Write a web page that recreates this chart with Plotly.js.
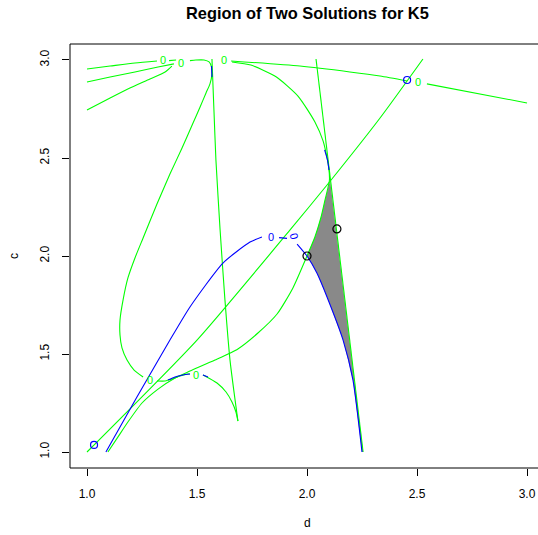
<!DOCTYPE html>
<html>
<head>
<meta charset="utf-8">
<script src="https://cdn.plot.ly/plotly-3.0.1.min.js"></script>
<style>html,body{margin:0;padding:0;background:#fff;overflow:hidden}#chart{width:538px;height:535px}</style>
</head>
<body>
<div id="chart"></div>
<script>
// ---- data (d, c) ----
const xTicks = [1.0, 1.5, 2.0, 2.5, 3.0];
const yTicks = [1.0, 1.5, 2.0, 2.5, 3.0];

// green contours (level 0)
const diagD = [1.000, 1.500, 1.923, 2.104, 2.332, 2.527];
const diagC = [1.000, 1.571, 2.133, 2.380, 2.704, 3.005];

const vert2D = [2.041, 2.255];
const vert2C = [3.005, 1.000];

const vert1D = [1.568, 1.577, 1.586, 1.605, 1.627, 1.650, 1.686];
const vert1C = [3.005, 2.745, 2.490, 2.133, 1.776, 1.469, 1.158];

const sCurveD = [1.095, 1.141, 1.186, 1.250, 1.323, 1.400, 1.468, 1.582, 1.686, 1.777, 1.864, 1.936, 2.000, 2.036, 2.064, 2.082, 2.095, 2.102, 2.100, 2.093, 2.073, 2.036, 1.959, 1.861, 1.745, 1.659];
const sCurveC = [1.000, 1.077, 1.153, 1.250, 1.321, 1.378, 1.413, 1.469, 1.526, 1.607, 1.704, 1.837, 2.000, 2.097, 2.199, 2.286, 2.347, 2.388, 2.439, 2.490, 2.587, 2.684, 2.816, 2.913, 2.974, 2.990];

const loopD = [1.468, 1.495, 1.532, 1.555, 1.566, 1.568, 1.559, 1.541, 1.514, 1.482, 1.432, 1.377, 1.318, 1.255, 1.218, 1.186, 1.164, 1.150, 1.150, 1.159, 1.182, 1.214, 1.255];
const loopC = [2.997, 3.000, 3.000, 2.990, 2.964, 2.929, 2.878, 2.832, 2.760, 2.679, 2.551, 2.418, 2.265, 2.092, 1.990, 1.888, 1.776, 1.673, 1.597, 1.531, 1.469, 1.418, 1.383];

const humpAD = [1.318, 1.355, 1.386, 1.423, 1.459, 1.468];
const humpAC = [1.362, 1.362, 1.372, 1.388, 1.398, 1.398];
const humpBD = [1.527, 1.536, 1.591, 1.632, 1.659, 1.677, 1.686];
const humpBC = [1.393, 1.388, 1.352, 1.306, 1.255, 1.204, 1.158];

const topAD = [1.000, 1.105, 1.218, 1.318];
const topAC = [2.954, 2.969, 2.985, 2.995];
const topA2D = [1.373, 1.405];
const topA2C = [2.997, 3.000];
const topBD = [1.000, 1.105, 1.218, 1.323, 1.395];
const topBC = [2.888, 2.913, 2.939, 2.964, 2.980];
const topCD = [1.000, 1.105, 1.195, 1.286, 1.355, 1.386];
const topCC = [2.745, 2.806, 2.857, 2.903, 2.939, 2.969];
const topRD = [1.655, 1.968, 2.195, 2.332, 2.455];
const topRC = [2.995, 2.969, 2.939, 2.918, 2.893];
const topR2D = [2.545, 3.000];
const topR2C = [2.878, 2.781];

// blue contours (level 0)
const blueAD = [1.086, 1.227, 1.377, 1.468, 1.618, 1.741, 1.795];
const blueAC = [1.000, 1.281, 1.571, 1.740, 1.964, 2.071, 2.097];
const blueDashD = [1.873, 1.909];
const blueDashC = [2.094, 2.090];
const blueBD = [1.955, 2.000, 2.045, 2.091, 2.164, 2.209, 2.250];
const blueBC = [2.061, 2.000, 1.913, 1.791, 1.571, 1.367, 1.000];
const blueTopD = [1.566, 1.568];
const blueTopC = [2.969, 2.913];
const blueQD = [2.080, 2.093, 2.100];
const blueQC = [2.541, 2.490, 2.439];
const blueHump1D = [1.368, 1.400, 1.436, 1.468];
const blueHump1C = [1.367, 1.383, 1.393, 1.398];
const blueHump2D = [1.527, 1.550];
const blueHump2C = [1.393, 1.383];

// shaded region (two solutions)
const regionD = [2.105, 2.255, 2.250, 2.209, 2.164, 2.091, 2.045, 2.000, 2.036, 2.064, 2.082, 2.095, 2.105];
const regionC = [2.388, 1.000, 1.000, 1.367, 1.571, 1.791, 1.913, 2.000, 2.097, 2.199, 2.286, 2.347, 2.388];

// points
const blackPtD = [2.000, 2.136];
const blackPtC = [2.000, 2.138];
const bluePtD = [1.032, 2.455];
const bluePtC = [1.036, 2.898];

// contour labels
const greenLabD = [1.345, 1.427, 1.623, 2.505, 1.286, 1.497];
const greenLabC = [3.000, 2.985, 3.000, 2.888, 1.367, 1.395];
const blueLabD = [1.836];
const blueLabC = [2.097];
const blueLabRotD = [1.941];
const blueLabRotC = [2.102];

const GREEN = '#00FF00', BLUE = '#0000FF';

function line(x, y, color, smooth) {
  return {x: x, y: y, type: 'scatter', mode: 'lines', hoverinfo: 'skip', showlegend: false,
    line: {color: color, width: 1.1, shape: smooth ? 'spline' : 'linear', smoothing: 0.6}};
}

const traces = [
  {x: regionD, y: regionC, type: 'scatter', mode: 'lines', fill: 'toself', fillcolor: '#898989',
   line: {width: 0, color: '#898989'}, hoverinfo: 'skip', showlegend: false},
  line(diagD, diagC, GREEN, true),
  line(vert2D, vert2C, GREEN, false),
  line(vert1D, vert1C, GREEN, true),
  line(sCurveD, sCurveC, GREEN, true),
  line(loopD, loopC, GREEN, true),
  line(humpAD, humpAC, GREEN, true),
  line(humpBD, humpBC, GREEN, true),
  line(topAD, topAC, GREEN, true),
  line(topA2D, topA2C, GREEN, false),
  line(topBD, topBC, GREEN, true),
  line(topCD, topCC, GREEN, true),
  line(topRD, topRC, GREEN, true),
  line(topR2D, topR2C, GREEN, false),
  line(blueAD, blueAC, BLUE, true),
  line(blueDashD, blueDashC, BLUE, false),
  line(blueBD, blueBC, BLUE, true),
  line(blueTopD, blueTopC, BLUE, false),
  line(blueQD, blueQC, BLUE, true),
  line(blueHump1D, blueHump1C, BLUE, true),
  line(blueHump2D, blueHump2C, BLUE, false),
  {x: bluePtD, y: bluePtC, type: 'scatter', mode: 'markers', hoverinfo: 'skip', showlegend: false,
   marker: {symbol: 'circle-open', size: 7, color: BLUE, line: {width: 1.2, color: BLUE}}},
  {x: blackPtD, y: blackPtC, type: 'scatter', mode: 'markers', hoverinfo: 'skip', showlegend: false,
   marker: {symbol: 'circle-open', size: 8, color: '#000', line: {width: 1.2, color: '#000'}}}
];

const labFont = {family: 'Liberation Sans, Arial, sans-serif', size: 11};
const annotations = [];
greenLabD.forEach((d, i) => annotations.push({x: d, y: greenLabC[i], xref: 'x', yref: 'y', text: '0',
  showarrow: false, font: Object.assign({}, labFont, {color: GREEN})}));
blueLabD.forEach((d, i) => annotations.push({x: d, y: blueLabC[i], xref: 'x', yref: 'y', text: '0',
  showarrow: false, font: Object.assign({}, labFont, {color: BLUE})}));
blueLabRotD.forEach((d, i) => annotations.push({x: d, y: blueLabRotC[i], xref: 'x', yref: 'y', text: '0',
  textangle: 75, showarrow: false, font: Object.assign({}, labFont, {color: BLUE})}));

// titles
const baseFont = {family: 'Liberation Sans, Arial, sans-serif', color: '#000'};
annotations.push({text: '<b>Region of Two Solutions for K5</b>', xref: 'paper', yref: 'paper',
  x: 0.5075, y: 1.0731, xanchor: 'center', yanchor: 'middle', showarrow: false,
  font: Object.assign({}, baseFont, {size: 16.4})});
annotations.push({text: 'd', xref: 'paper', yref: 'paper', x: 0.5075, y: -0.1297,
  xanchor: 'center', yanchor: 'middle', showarrow: false, font: Object.assign({}, baseFont, {size: 12})});
annotations.push({text: 'c', xref: 'paper', yref: 'paper', x: -0.1197, y: 0.5, textangle: -90,
  xanchor: 'center', yanchor: 'middle', showarrow: false, font: Object.assign({}, baseFont, {size: 12})});

const axisCommon = {
  showgrid: false, zeroline: false, showline: false, ticks: 'outside', ticklen: 7,
  tickwidth: 1, tickcolor: '#000', tickformat: '.1f', tickmode: 'array',
  tickfont: Object.assign({}, baseFont, {size: 12})
};

const layout = {
  width: 538, height: 535,
  margin: {l: 70, r: 0, t: 44, b: 67, pad: 0},
  paper_bgcolor: '#fff', plot_bgcolor: '#fff',
  xaxis: Object.assign({}, axisCommon, {range: [0.92273, 3.05], tickvals: xTicks, ticklabelstandoff: 8}),
  yaxis: Object.assign({}, axisCommon, {range: [0.9184, 3.0816], tickvals: yTicks, tickangle: -90, ticklabelstandoff: 8}),
  annotations: annotations,
  shapes: [{type: 'rect', xref: 'paper', yref: 'paper', x0: 0, x1: 1.0162, y0: 0, y1: 1,
    line: {color: '#000', width: 1}, layer: 'above'}]
};

Plotly.newPlot('chart', traces, layout, {staticPlot: true, displayModeBar: false});
</script>
</body>
</html>
